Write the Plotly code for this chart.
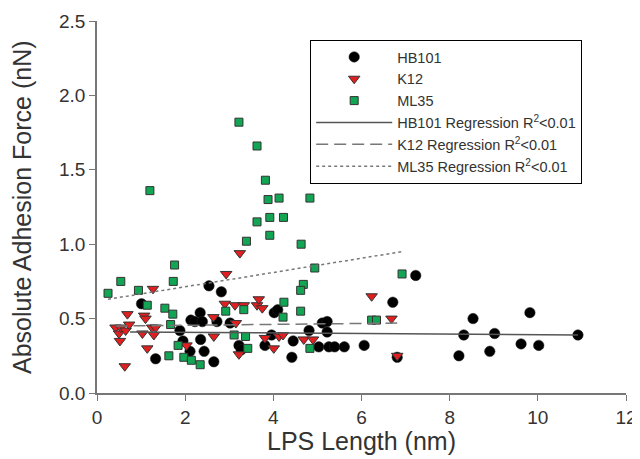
import plotly.graph_objects as go

# HB101 (black circles)
hb_x = [1.01, 1.33, 1.88, 1.95, 2.13, 2.34, 2.22, 2.39, 2.11, 2.35, 2.43, 2.54, 2.82, 2.65, 2.72,
        3.02, 3.22, 3.27, 3.81, 3.96, 4.02, 4.10, 4.45, 4.42, 4.81, 5.11, 5.22, 5.22, 5.03, 5.26,
        5.39, 5.61, 6.06, 6.71, 7.23, 6.81, 8.21, 8.32, 8.53, 8.91, 9.02, 9.62, 9.82, 10.02, 10.91]
hb_y = [0.60, 0.23, 0.42, 0.35, 0.49, 0.54, 0.48, 0.48, 0.28, 0.36, 0.28, 0.72, 0.68, 0.21, 0.48,
        0.47, 0.32, 0.29, 0.32, 0.39, 0.54, 0.56, 0.35, 0.24, 0.42, 0.47, 0.48, 0.41, 0.31, 0.31,
        0.31, 0.31, 0.32, 0.61, 0.79, 0.24, 0.25, 0.39, 0.50, 0.28, 0.40, 0.33, 0.54, 0.32, 0.39]

# K12 (red down triangles)
k12_x = [0.42, 0.50, 0.52, 0.54, 0.63, 0.65, 0.69, 0.73, 1.03, 1.07, 1.10, 1.14, 1.25, 1.29, 1.33,
         1.27, 2.03, 2.64, 2.65, 2.90, 2.93, 3.13, 3.15, 3.22, 3.24, 3.33, 3.63, 3.67, 3.75, 3.81,
         4.01, 4.13, 4.22, 4.69, 4.90, 6.23, 6.68, 6.81]
k12_y = [0.44, 0.40, 0.35, 0.44, 0.18, 0.42, 0.53, 0.46, 0.40, 0.52, 0.50, 0.30, 0.44, 0.39, 0.44,
         0.70, 0.32, 0.51, 0.38, 0.60, 0.80, 0.59, 0.47, 0.26, 0.94, 0.59, 0.59, 0.63, 0.57, 0.37,
         0.30, 0.38, 0.39, 0.36, 0.36, 0.65, 0.50, 0.25]

# ML35 (green squares)
ml_x = [0.25, 0.54, 0.94, 1.20, 1.14, 1.54, 1.72, 1.67, 1.76, 1.73, 1.84, 1.63, 1.97, 2.14, 2.34,
        2.92, 3.11, 3.33, 3.37, 3.42, 3.22, 3.63, 3.82, 3.88, 4.13, 4.83, 3.63, 3.92, 4.23, 3.92,
        3.39, 4.63, 4.94, 4.68, 4.62, 4.24, 4.22, 4.62, 4.83, 6.23, 6.34, 6.92]
ml_y = [0.67, 0.75, 0.69, 1.36, 0.59, 0.57, 0.53, 0.46, 0.86, 0.75, 0.32, 0.25, 0.24, 0.22, 0.19,
        0.55, 0.39, 0.56, 0.38, 0.30, 1.82, 1.66, 1.43, 1.30, 1.31, 1.31, 1.15, 1.18, 1.18, 1.06,
        1.02, 1.00, 0.84, 0.73, 0.69, 0.61, 0.51, 0.55, 0.30, 0.49, 0.49, 0.80]

# regression line end points
hb_reg_x = [0.75, 10.91]
hb_reg_y = [0.41, 0.39]
k12_reg_x = [0.42, 6.81]
k12_reg_y = [0.45, 0.47]
ml_reg_x = [0.25, 6.92]
ml_reg_y = [0.63, 0.95]

fig = go.Figure()
fig.add_trace(go.Scatter(x=hb_x, y=hb_y, mode='markers', name='HB101',
                         marker=dict(symbol='circle', size=10.5, color='black',
                                     line=dict(color='#222', width=0.5))))
fig.add_trace(go.Scatter(x=k12_x, y=k12_y, mode='markers', name='K12',
                         marker=dict(symbol='triangle-down', size=10, color='#e02020',
                                     line=dict(color='#333', width=1))))
fig.add_trace(go.Scatter(x=ml_x, y=ml_y, mode='markers', name='ML35',
                         marker=dict(symbol='square', size=8, color='#12a553',
                                     line=dict(color='#333', width=1))))
fig.add_trace(go.Scatter(x=hb_reg_x, y=hb_reg_y, mode='lines',
                         name='HB101 Regression R<sup>2</sup>&lt;0.01',
                         line=dict(color='#555', width=1.5)))
fig.add_trace(go.Scatter(x=k12_reg_x, y=k12_reg_y, mode='lines',
                         name='K12 Regression R<sup>2</sup>&lt;0.01',
                         line=dict(color='#777', width=1.5, dash='12px,6px')))
fig.add_trace(go.Scatter(x=ml_reg_x, y=ml_reg_y, mode='lines',
                         name='ML35 Regression R<sup>2</sup>&lt;0.01',
                         line=dict(color='#777', width=1.5, dash='dot')))

axis_common = dict(showline=True, linecolor='#777', linewidth=1.5, ticks='outside',
                   ticklen=6, tickcolor='#777', showgrid=False, zeroline=False,
                   tickfont=dict(size=19, color='#333'), mirror=False, automargin=False)

# the page body adds an 8px margin, so the figure is 8px smaller on each side
fig.update_layout(
    width=632, height=451,
    margin=dict(l=89, r=14, t=13, b=66),
    plot_bgcolor='white', paper_bgcolor='white',
    font=dict(family='Liberation Sans, Arial, sans-serif', color='#333'),
    xaxis=dict(range=[0, 12], tickvals=[0, 2, 4, 6, 8, 10, 12], **axis_common),
    yaxis=dict(range=[0, 2.5], tickvals=[0, 0.5, 1.0, 1.5, 2.0, 2.5], tickformat='.1f',
               **axis_common),
    legend=dict(x=0.403, y=0.949, xanchor='left', yanchor='top',
                bordercolor='black', borderwidth=1, bgcolor='white',
                font=dict(size=14.5, color='#333'), itemwidth=76, tracegroupgap=0),
    showlegend=True,
    annotations=[
        dict(text='LPS Length (nm)', xref='paper', yref='paper', x=0.5, y=0,
             xanchor='center', yanchor='middle', yshift=-48, showarrow=False,
             font=dict(size=25, color='#333')),
        dict(text='Absolute Adhesion Force (nN)', xref='paper', yref='paper', x=0, y=0.5,
             xanchor='center', yanchor='middle', xshift=-75, textangle=-90, showarrow=False,
             font=dict(size=25, color='#333')),
    ],
)

fig.write_html("out.html")
